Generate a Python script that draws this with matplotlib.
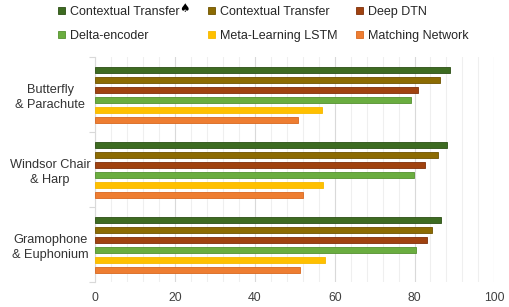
import matplotlib
matplotlib.use('Agg')
import matplotlib.pyplot as plt
import numpy as np

plt.rcParams['font.family'] = ['Liberation Sans', 'DejaVu Sans']

categories = ['Butterfly\n& Parachute', 'Windsor Chair\n& Harp', 'Gramophone\n& Euphonium']
series = ['Contextual Transfer', 'Contextual Transfer', 'Deep DTN',
          'Delta-encoder', 'Meta-Learning LSTM', 'Matching Network']
values = [
    [88.8, 88.1, 86.7],   # Contextual Transfer (spade)
    [86.3, 86.0, 84.5],   # Contextual Transfer
    [81.0, 82.7, 83.1],   # Deep DTN
    [79.2, 79.9, 80.5],   # Delta-encoder
    [56.7, 57.1, 57.6],   # Meta-Learning LSTM
    [50.8, 52.1, 51.2],   # Matching Network
]
colors = ['#3d6b21', '#8c6b02', '#a0420f', '#6aad3f', '#ffc000', '#ee7d31']
edges  = ['#2c4f15', '#6e5300', '#7e300a', '#55902f', '#f5b800', '#d8681f']

fig = plt.figure(figsize=(5.1, 3.07), dpi=100)
ax  = fig.add_axes([95.3 / 510, 1 - 282 / 307, (494.3 - 95.3) / 510, (282 - 57) / 307])

y_pos   = np.arange(len(categories))
spacing = 10 / 75
height  = 0.08
handles = []
for i, (vals, c, e) in enumerate(zip(values, colors, edges)):
    h = ax.barh(y_pos + (i - 2.5) * spacing, vals, height=height, color=c,
                edgecolor=e, linewidth=0.6, zorder=3)
    handles.append(h)

ax.set_xlim(0, 100)
ax.set_ylim(len(categories) - 0.5, -0.5)

ax.set_xticks(np.arange(0, 101, 20))
ax.set_xticks(np.arange(0, 101, 4), minor=True)
ax.grid(True, axis='x', which='major', color='#d9d9d9', linewidth=0.8, zorder=0)
ax.grid(True, axis='x', which='minor', color='#efefef', linewidth=0.8, zorder=0)
ax.tick_params(axis='x', which='both', length=0, labelsize=8.8, labelcolor='#404040', pad=7)

ax.set_yticks(y_pos)
ax.set_yticklabels(categories, fontsize=9.2, color='#333333', ha='center',
                   multialignment='center', linespacing=1.3)
ax.tick_params(axis='y', which='major', length=0, pad=32.5)
ax.set_yticks(np.arange(-0.5, len(categories)), minor=True)
ax.tick_params(axis='y', which='minor', length=4, color='#d9d9d9', width=0.8)

for s in ['top', 'right', 'bottom']:
    ax.spines[s].set_visible(False)
ax.spines['left'].set_color('#d9d9d9')
ax.spines['left'].set_linewidth(0.8)

# legend: three columns, two rows
col_x = [58.5, 208.5, 356.5]
legs = []
for col in range(3):
    idx = [col, col + 3]
    leg = fig.legend([handles[k] for k in idx], [series[k] for k in idx],
                     loc='upper left', bbox_to_anchor=(col_x[col] / 510, 1 - 6 / 307),
                     frameon=False, fontsize=9, handlelength=0.55, handleheight=0.55,
                     handletextpad=0.35, labelspacing=0.95,
                     borderaxespad=0, borderpad=0)
    for t in leg.get_texts():
        t.set_color('#262626')
    legs.append(leg)

# spade mark after the first legend entry
fig.canvas.draw()
bb = legs[0].get_texts()[0].get_window_extent().transformed(fig.transFigure.inverted())
fig.text(bb.x1 - 0.5 / 510, bb.y1 + 3.5 / 307, '\u2660', fontsize=8.5, color='black',
         family='DejaVu Sans', ha='left', va='top')

fig.savefig('out.png', dpi=100)
